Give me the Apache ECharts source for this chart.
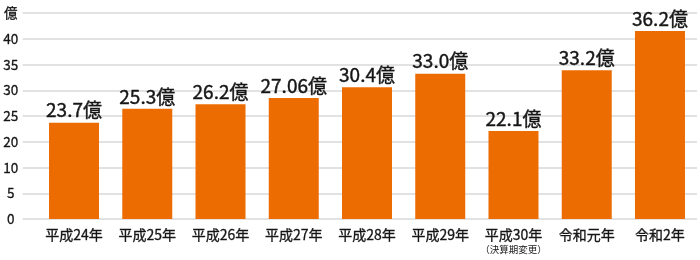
<!DOCTYPE html>
<html><head><meta charset="utf-8">
<script src="https://cdn.jsdelivr.net/npm/echarts@6/dist/echarts.min.js"></script>
<style>html,body{margin:0;padding:0;background:#fff}#c{width:700px;height:260px}</style>
</head><body><div id="c"></div>
<script>
const categories = ['平成24年','平成25年','平成26年','平成27年','平成28年','平成29年','平成30年','令和元年','令和2年'];
// bar heights as drawn against the chart's gridlines (grid step = one labelled tick)
const barHeights = [18.7, 21.4, 22.3, 23.5, 25.6, 28.2, 17.1, 28.9, 36.5];
const valueLabels = ['23.7億','25.3億','26.2億','27.06億','30.4億','33.0億','22.1億','33.2億','36.2億'];
const yTickLabels = ['0','5','10','20','25','30','35','40','億'];
const noteCategory = '平成30年';
const noteText = '（決算期変更）';

const FONT = '"Noto Sans CJK JP", "Noto Sans", sans-serif';
const TXT = '#151515';
const chart = echarts.init(document.getElementById('c'), null, {renderer:'canvas'});
chart.setOption({
  animation:false,
  backgroundColor:'#fff',
  textStyle:{fontFamily:FONT},
  grid:[
    {left:20, right:3, top:13, bottom:41},
    {left:37.4, right:3.4, top:13, bottom:41}
  ],
  xAxis:[
    {gridIndex:0, type:'category', data:categories, show:false},
    {gridIndex:1, type:'category', data:categories,
     axisLine:{show:false}, axisTick:{show:false},
     axisLabel:{interval:0, margin:8, color:TXT, fontSize:14, fontFamily:FONT, lineHeight:16,
       textBorderColor:TXT, textBorderWidth:0.3,
       formatter:function(v){ return v===noteCategory ? v+'\n{s|'+noteText+'}' : v; },
       rich:{s:{fontSize:9.5, color:TXT, fontFamily:FONT, lineHeight:13, textBorderWidth:0}}}}
  ],
  yAxis:[
    {gridIndex:0, type:'value', min:0, max:40, interval:5,
     axisLine:{show:false}, axisTick:{show:false},
     splitLine:{lineStyle:{color:'#d8d8d8', width:1.5}},
     axisLabel:{color:TXT, fontSize:13.5, fontFamily:FONT, align:'center', margin:12,
       textBorderColor:TXT, textBorderWidth:0.3,
       formatter:function(v){ return yTickLabels[Math.round(v/5)]; }}},
    {gridIndex:1, type:'value', min:0, max:40, interval:5, show:false, splitLine:{show:false}}
  ],
  series:[{
    type:'bar', xAxisIndex:1, yAxisIndex:1, barWidth:50,
    data:barHeights,
    itemStyle:{color:'#EC6C02'},
    label:{show:true, position:'top', distance:3, color:TXT, fontSize:19, fontFamily:FONT,
      textBorderColor:TXT, textBorderWidth:0.4,
      formatter:function(p){ return valueLabels[p.dataIndex]; }}
  }]
});
</script></body></html>
